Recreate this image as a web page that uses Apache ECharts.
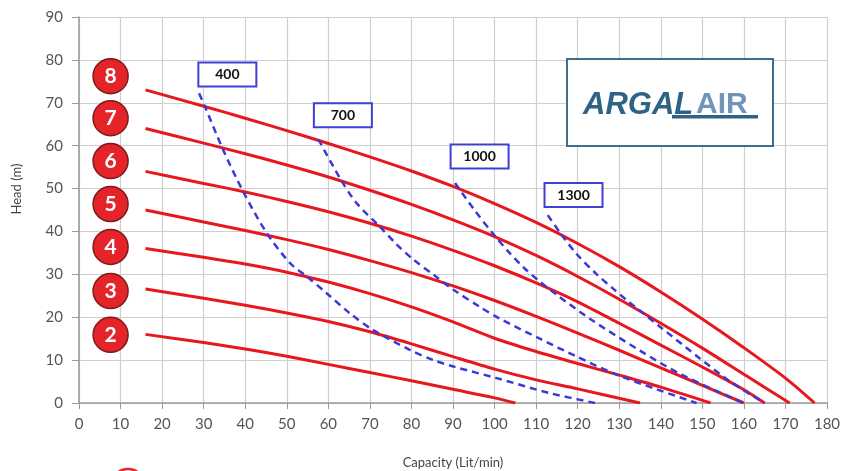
<!DOCTYPE html>
<html>
<head>
<meta charset="utf-8">
<script src="https://cdn.jsdelivr.net/npm/echarts@6/dist/echarts.min.js"></script>
<style>
html,body{margin:0;padding:0;background:#fff;}
#chart{width:843px;height:471px;}
</style>
</head>
<body>
<div id="chart"></div>
<script>
// ---- data ----
const xTicks = [0,10,20,30,40,50,60,70,80,90,100,110,120,130,140,150,160,170,180];
const yTicks = [0,10,20,30,40,50,60,70,80,90];

// pump curves (air pressure, bar): [capacity, head]
const curve8 = [[16,73],[30,69.2],[40,66.4],[50,63.5],[60,60.5],[70,57.4],[80,54.1],[90,50.5],[100,46.5],[110,42.1],[120,37.2],[130,31.8],[140,25.9],[150,19.6],[160,12.9],[170,5.8],[177,0]];
const curve7 = [[16,64],[30,60.6],[40,58.1],[50,55.5],[60,52.7],[70,49.6],[80,46.3],[90,42.7],[100,38.8],[110,34.4],[120,29.5],[130,24.2],[140,18.6],[150,12.8],[160,6.7],[171,0]];
const curve6 = [[16,54],[30,51.2],[40,49.2],[50,47.0],[60,44.6],[70,41.9],[80,38.9],[90,35.6],[100,32.0],[110,28.0],[120,23.6],[130,18.6],[140,13.5],[150,8.4],[160,3.1],[165,0]];
const curve5 = [[16,45],[30,42.2],[40,40.2],[50,38.1],[60,35.8],[70,33.2],[80,30.4],[90,27.3],[100,23.9],[110,20.2],[120,16.3],[130,12.3],[140,8.2],[150,4.1],[160,0]];
const curve4 = [[16,36],[30,34.0],[40,32.4],[50,30.5],[60,28.2],[70,25.5],[80,22.4],[90,18.9],[100,15.1],[110,12.0],[120,9.2],[130,6.5],[140,3.7],[152,0]];
const curve3 = [[16,26.6],[30,24.4],[40,22.8],[50,21.0],[60,19.0],[70,16.6],[80,13.8],[90,10.8],[100,7.9],[110,5.4],[120,3.3],[135,0]];
const curve2 = [[16,16],[30,14.1],[40,12.6],[50,10.9],[60,9.0],[70,7.1],[80,5.2],[90,3.2],[100,1.2],[105,0]];

// air consumption lines (NL/min): [capacity, head]
const air400 = [[28.9,72.2],[30.3,69.1],[34.7,59],[39.5,49.3],[45.2,39.6],[50.8,32.6],[54.8,29.5],[59.6,25.6],[65.2,20.9],[70.8,17],[79.6,12.4],[85.3,10],[90.1,8.5],[100.5,5.8],[113.3,2.3],[124.2,0]];
const air700 = [[57.6,61.5],[62.8,52.4],[66.8,46.6],[72.4,41.1],[76.4,37.0],[80.4,33.5],[85.3,29.9],[90.1,26.4],[96.5,22.4],[101,19.8],[110.9,15.0],[119.8,10.8],[129.4,6.6],[139,3.2],[148.6,0]];
const air1000 = [[90.5,51.3],[95,45.2],[99.7,39.4],[103.7,34.9],[107,31.6],[111,28.2],[115,25.2],[123,19.6],[135,12.2],[145,6.6],[160,0]];
const air1300 = [[112.8,43.8],[116,39.4],[119.7,34.8],[124.6,30.0],[128.6,26.6],[131.8,24.0],[139.8,17.8],[149.4,10.4],[157,4.8],[165,0]];

// annotation labels
const airLabels = ['400','700','1000','1300'];
const airLabelX = [35.7, 63.5, 96.4, 119];
const airLabelY = [76.6, 67.1, 57.5, 48.5];
const speedLabels = ['8','7','6','5','4','3','2'];
const speedLabelX = 7.6;
const speedLabelY = [76.2, 66.4, 56.4, 46.4, 36.4, 26.1, 15.9];

const curves = [curve8, curve7, curve6, curve5, curve4, curve3, curve2];
const airLines = [air400, air700, air1000, air1300];

// ---- chart ----
const FONT = 'Lato, "Liberation Sans", sans-serif';
const RED = '#e8171d';
const BLUE = '#3a3ad8';

const series = [];
curves.forEach((c) => {
  series.push({
    type: 'line', data: c, smooth: 0.3, symbol: 'none', z: 3,
    lineStyle: { color: RED, width: 3 }
  });
});
airLines.forEach((c) => {
  series.push({
    type: 'line', data: c, smooth: 0.3, symbol: 'none', z: 4,
    lineStyle: { color: BLUE, width: 2.5, type: [7, 5] }
  });
});
series.push({
  type: 'scatter', z: 6, symbolSize: 1, itemStyle: { color: 'rgba(0,0,0,0)', opacity: 1 },
  data: airLabels.map((t, i) => [airLabelX[i], airLabelY[i], t]),
  label: {
    show: true, position: 'inside', formatter: p => p.data[2], opacity: 1,
    backgroundColor: '#ffffff', borderColor: '#3f3fd6', borderWidth: 2,
    width: 56, height: 20, lineHeight: 20, align: 'center', verticalAlign: 'middle',
    padding: [1, 0], color: '#111', fontSize: 14, fontWeight: 'bold', fontFamily: FONT
  }
});
series.push({
  type: 'scatter', z: 7, symbol: 'circle', symbolSize: 35,
  itemStyle: { color: '#e5242a', borderColor: '#7d1a1a', borderWidth: 1.5, opacity: 1 },
  data: speedLabels.map((t, i) => [speedLabelX, speedLabelY[i], t]),
  label: {
    show: true, position: 'inside', formatter: p => p.data[2], opacity: 1,
    color: '#fff', fontSize: 21, fontWeight: 'bold', fontFamily: FONT
  }
});

const chart = echarts.init(document.getElementById('chart'), null, { renderer: 'canvas' });
chart.setOption({
  animation: false,
  backgroundColor: '#fff',
  grid: { left: 79, right: 16, top: 17, bottom: 68, containLabel: false, outerBoundsMode: 'none' },
  xAxis: {
    type: 'value', min: 0, max: 180, interval: 10,
    name: 'Capacity (Lit/min)', nameLocation: 'middle', nameGap: 53,
    nameTextStyle: { fontSize: 13, color: '#444', fontFamily: FONT },
    axisLine: { show: true, onZero: false, lineStyle: { color: '#9a9a9a', width: 1.5 } },
    axisTick: { show: true, length: 6, lineStyle: { color: '#9a9a9a' } },
    axisLabel: { margin: 14, fontSize: 15, color: '#555', fontFamily: FONT,
      formatter: v => xTicks.includes(v) ? String(v) : '' },
    splitLine: { show: true, lineStyle: { color: '#cfcfcf', width: 1.2 } }
  },
  yAxis: {
    type: 'value', min: 0, max: 90, interval: 10,
    name: 'Head (m)', nameLocation: 'middle', nameGap: 56,
    nameTextStyle: { fontSize: 13, color: '#444', fontFamily: FONT, padding: [0, 0, 0, 42] },
    axisLine: { show: true, lineStyle: { color: '#9a9a9a', width: 1.5 } },
    axisTick: { show: true, length: 7, lineStyle: { color: '#9a9a9a' } },
    axisLabel: { margin: 16, fontSize: 15, color: '#555', fontFamily: FONT,
      formatter: v => yTicks.includes(v) ? String(v) : '' },
    splitLine: { show: true, lineStyle: { color: '#cfcfcf', width: 1.2 } }
  },
  series: series,
  graphic: [
    { type: 'rect', z: 10, shape: { x: 567, y: 59, width: 206, height: 87 },
      style: { fill: '#fff', stroke: '#3d6e8f', lineWidth: 2 } },
    { type: 'text', z: 11, left: 583, top: 90,
      style: { text: 'ARGAL', font: 'italic bold 31px "Liberation Sans", sans-serif', fill: '#2f6386' } },
    { type: 'rect', z: 11, shape: { x: 672, y: 115, width: 86, height: 3.5 },
      style: { fill: '#2f6386' } },
    { type: 'text', z: 11, left: 696, top: 90,
      style: { text: 'AIR', font: 'bold 30px "Liberation Sans", sans-serif', fill: '#6f95b8' } },
    { type: 'circle', z: 10, shape: { cx: 128, cy: 486, r: 17 },
      style: { fill: 'none', stroke: '#e5262b', lineWidth: 2.5 } }
  ]
});
</script>
</body>
</html>
